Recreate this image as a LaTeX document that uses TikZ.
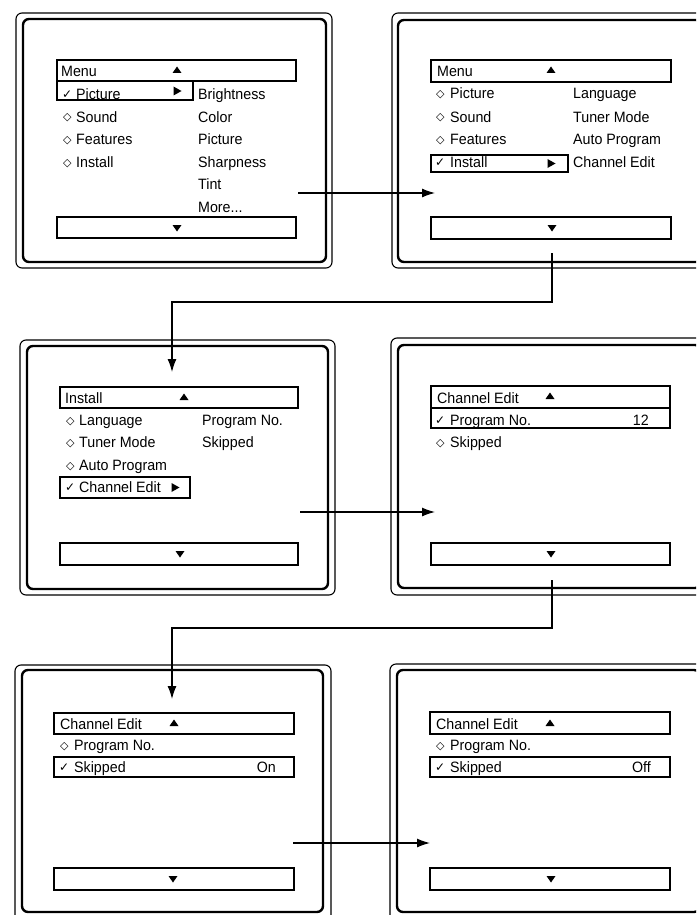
\documentclass[tikz,border=0pt]{standalone}
\usepackage{fontspec}
\setmainfont{Liberation Sans}[FakeStretch=0.95]
\newfontfamily\symf{DejaVu Sans}
\usetikzlibrary{arrows.meta}
\tikzset{
  frameout/.style={draw, line width=1.1pt, rounded corners=6pt},
  framein/.style={draw, line width=2.4pt, rounded corners=6pt},
  bar/.style={draw, line width=1.4pt},
  txt/.style={font=\fontsize{15}{18}\selectfont, inner sep=0pt, anchor=base west},
  rtxt/.style={font=\fontsize{15}{18}\selectfont, inner sep=0pt, anchor=base east},
  dia/.style={font=\symf\fontsize{11}{12}\selectfont, inner sep=0pt, anchor=base west},
  chk/.style={font=\symf\fontsize{12}{13}\selectfont, inner sep=0pt, anchor=base west},
  conn/.style={line width=1.2pt, -{Latex[length=13pt,width=9pt]}},
  uptri/.pic={\fill (-4.5,3) -- (4.5,3) -- (0,-3.5) -- cycle;},
  dntri/.pic={\fill (-4.5,-3) -- (4.5,-3) -- (0,3.5) -- cycle;},
  rttri/.pic={\fill (-3.5,-4.5) -- (-3.5,4.5) -- (4.5,0) -- cycle;},
}
\begin{document}
\begin{tikzpicture}[x=1pt,y=-1pt]
\useasboundingbox (0,0) rectangle (696,915);
\clip (0,0) rectangle (696,915);
\fill[white] (0,0) rectangle (696,915);

% ---------- Panel 1 ----------
\draw[frameout] (16,13) rectangle (332,268);
\draw[framein] (23,19) rectangle (326,262);
\draw[bar] (57,60) rectangle (296,81);
\draw[bar] (57,81) rectangle (193,100);
\draw[bar] (57,217) rectangle (296,238);
\node[txt] (p1t) at (61,77) {Menu};
\pic at (177,70) {uptri};
\node[chk] (p1c1) at (62,98.5) {✓};
\node[txt] (p1a) at (76,99.5) {Picture};
\pic at (177,91) {rttri};
\node[dia] (p1d2) at (63,121) {◇};
\node[txt] (p1b) at (76,122) {Sound};
\node[dia] (p1d3) at (63,143.5) {◇};
\node[txt] (p1c) at (76,144.5) {Features};
\node[dia] (p1d4) at (63,166) {◇};
\node[txt] (p1d) at (76,167) {Install};
\node[txt] (p1r1) at (198,99.5) {Brightness};
\node[txt] (p1r2) at (198,122) {Color};
\node[txt] (p1r3) at (198,144.5) {Picture};
\node[txt] (p1r4) at (198,167) {Sharpness};
\node[txt] (p1r5) at (198,189.5) {Tint};
\node[txt] (p1r6) at (198,212) {More...};
\pic at (177,228) {dntri};

% ---------- Panel 2 ----------
\draw[frameout] (392,13) rectangle (708,268);
\draw[framein] (398,20) rectangle (702,262);
\draw[bar] (431,60) rectangle (671,82);
\draw[bar] (431,155) rectangle (568,172);
\draw[bar] (431,217) rectangle (671,239);
\node[txt] (p2t) at (437,77) {Menu};
\pic at (551,70) {uptri};
\node[dia] (p2d1) at (436,98) {◇};
\node[txt] (p2a) at (450,99) {Picture};
\node[dia] (p2d2) at (436,121) {◇};
\node[txt] (p2b) at (450,122) {Sound};
\node[dia] (p2d3) at (436,143) {◇};
\node[txt] (p2c) at (450,144) {Features};
\node[chk] (p2c4) at (435,166) {✓};
\node[txt] (p2d) at (450,167) {Install};
\pic at (551,163.5) {rttri};
\node[txt] (p2r1) at (573,99) {Language};
\node[txt] (p2r2) at (573,122) {Tuner Mode};
\node[txt] (p2r3) at (573,144) {Auto Program};
\node[txt] (p2r4) at (573,167) {Channel Edit};
\pic at (552,228) {dntri};

% ---------- Panel 3 ----------
\draw[frameout] (20,340) rectangle (335,595);
\draw[framein] (27,346) rectangle (328,589);
\draw[bar] (60,387) rectangle (298,408);
\draw[bar] (60,477) rectangle (190,498);
\draw[bar] (60,543) rectangle (298,565);
\node[txt] (p3t) at (65,403) {Install};
\pic at (184,397) {uptri};
\node[dia] (p3d1) at (66,424) {◇};
\node[txt] (p3a) at (79,425) {Language};
\node[dia] (p3d2) at (66,446.5) {◇};
\node[txt] (p3b) at (79,447.5) {Tuner Mode};
\node[dia] (p3d3) at (66,469) {◇};
\node[txt] (p3c) at (79,470) {Auto Program};
\node[chk] (p3c4) at (65,491.5) {✓};
\node[txt] (p3d) at (79,492.5) {Channel Edit};
\pic at (175,487.5) {rttri};
\node[txt] (p3r1) at (202,425) {Program No.};
\node[txt] (p3r2) at (202,447.5) {Skipped};
\pic at (180,554) {dntri};

% ---------- Panel 4 ----------
\draw[frameout] (391,338) rectangle (707,595);
\draw[framein] (398,345) rectangle (701,588);
\draw[bar] (431,386) rectangle (670,408);
\draw[bar] (431,408) rectangle (670,428);
\draw[bar] (431,543) rectangle (670,565);
\node[txt] (p4t) at (437,403) {Channel Edit};
\pic at (550,396) {uptri};
\node[chk] (p4c1) at (435,424) {✓};
\node[txt] (p4a) at (450,425) {Program No.};
\node[rtxt] (p4v) at (649,425) {12};
\node[dia] (p4d2) at (436,446.5) {◇};
\node[txt] (p4b) at (450,447.5) {Skipped};
\pic at (551,554) {dntri};

% ---------- Panel 5 ----------
\draw[frameout] (15,665) rectangle (331,935);
\draw[framein] (22,670) rectangle (323,912);
\draw[bar] (54,713) rectangle (294,734);
\draw[bar] (54,757) rectangle (294,777);
\draw[bar] (54,868) rectangle (294,890);
\node[txt] (p5t) at (60,729) {Channel Edit};
\pic at (174,723) {uptri};
\node[dia] (p5d1) at (60,749) {◇};
\node[txt] (p5a) at (74,750) {Program No.};
\node[chk] (p5c2) at (59,771.5) {✓};
\node[txt] (p5b) at (74,772.5) {Skipped};
\node[rtxt] (p5v) at (276,772.5) {On};
\pic at (173,879) {dntri};

% ---------- Panel 6 ----------
\draw[frameout] (390,664) rectangle (706,935);
\draw[framein] (397,670) rectangle (700,912);
\draw[bar] (430,712) rectangle (670,734);
\draw[bar] (430,757) rectangle (670,777);
\draw[bar] (430,868) rectangle (670,890);
\node[txt] (p6t) at (436,729) {Channel Edit};
\pic at (550,723) {uptri};
\node[dia] (p6d1) at (436,749) {◇};
\node[txt] (p6a) at (450,750) {Program No.};
\node[chk] (p6c2) at (435,771.5) {✓};
\node[txt] (p6b) at (450,772.5) {Skipped};
\node[rtxt] (p6v) at (651,772.5) {Off};
\pic at (551,879) {dntri};

% ---------- Connectors ----------
\coordinate (c1s) at (298,193);
\coordinate (c1e) at (435,193);
\coordinate (c2s) at (552,253);
\coordinate (c2m) at (172,302);
\coordinate (c2e) at (172,372);
\coordinate (c3s) at (300,512);
\coordinate (c3e) at (435,512);
\coordinate (c4s) at (552,580);
\coordinate (c4m) at (172,628);
\coordinate (c4e) at (172,699);
\coordinate (c5s) at (293,843);
\coordinate (c5e) at (430,843);
\draw[conn] (c1s) -- (c1e);
\draw[conn] (c2s) |- (c2m) -- (c2e);
\draw[conn] (c3s) -- (c3e);
\draw[conn] (c4s) |- (c4m) -- (c4e);
\draw[conn] (c5s) -- (c5e);
\end{tikzpicture}
\end{document}
